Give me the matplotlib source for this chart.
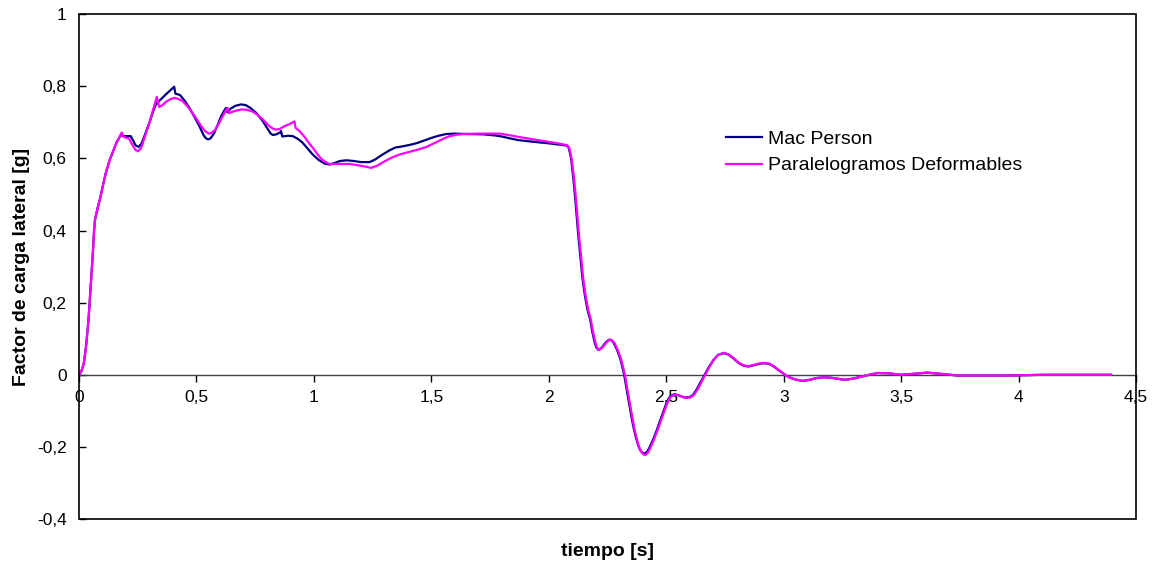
import matplotlib
matplotlib.use("Agg")
import matplotlib.pyplot as plt
from matplotlib.patches import Rectangle

plt.rcParams['font.family'] = ['Liberation Sans', 'DejaVu Sans']

# ---- data ----
t_mac = [0.0, 0.01, 0.02, 0.03, 0.04, 0.05, 0.058, 0.064, 0.068, 0.08, 0.09, 0.10,
         0.114, 0.13, 0.145, 0.16, 0.178, 0.19, 0.22, 0.23, 0.24, 0.253, 0.265, 0.28,
         0.30, 0.315, 0.327, 0.345, 0.37, 0.39, 0.405, 0.41, 0.43, 0.45, 0.47, 0.49,
         0.512, 0.53, 0.54, 0.55, 0.56, 0.575, 0.59, 0.605, 0.62, 0.626, 0.632, 0.645,
         0.665, 0.69, 0.71, 0.73, 0.755, 0.782, 0.80, 0.815, 0.825, 0.84, 0.855, 0.86,
         0.865, 0.89, 0.91, 0.93, 0.95, 0.97, 0.995, 1.02, 1.045, 1.067, 1.09, 1.11,
         1.138, 1.17, 1.20, 1.237, 1.26, 1.29, 1.32, 1.345, 1.38, 1.41, 1.44, 1.47,
         1.50, 1.53, 1.564, 1.60, 1.64, 1.72, 1.77, 1.80, 1.84, 1.87, 1.91, 1.94,
         2.00, 2.04, 2.076, 2.085, 2.095, 2.105, 2.115, 2.125, 2.133, 2.143, 2.154, 2.165,
         2.176, 2.185, 2.195, 2.203, 2.211, 2.225, 2.24, 2.255, 2.264, 2.275, 2.29, 2.304,
         2.313, 2.321, 2.33, 2.34, 2.35, 2.36, 2.37, 2.38, 2.39, 2.40, 2.41, 2.42,
         2.43, 2.445, 2.46, 2.475, 2.49, 2.50, 2.51, 2.52, 2.535, 2.55, 2.565, 2.58,
         2.60, 2.615, 2.63, 2.645, 2.66, 2.68, 2.70, 2.72, 2.745, 2.765, 2.785, 2.81,
         2.83, 2.85, 2.87, 2.90, 2.92, 2.94, 2.96, 2.98, 3.00, 3.02, 3.05, 3.08,
         3.11, 3.14, 3.17, 3.20, 3.23, 3.26, 3.30, 3.35, 3.40, 3.45, 3.50, 3.56,
         3.61, 3.68, 3.74, 3.85, 3.96, 4.10, 4.25, 4.394]
g_mac = [0.0, 0.01, 0.03, 0.08, 0.15, 0.25, 0.33, 0.40, 0.43, 0.465, 0.49, 0.52,
         0.56, 0.595, 0.62, 0.645, 0.665, 0.662, 0.662, 0.65, 0.637, 0.632, 0.64, 0.665,
         0.70, 0.73, 0.75, 0.762, 0.778, 0.79, 0.799, 0.78, 0.776, 0.76, 0.74, 0.717,
         0.69, 0.665, 0.656, 0.653, 0.656, 0.67, 0.693, 0.717, 0.735, 0.74, 0.728, 0.738,
         0.746, 0.75, 0.748, 0.74, 0.726, 0.704, 0.685, 0.67, 0.665, 0.667, 0.672, 0.676,
         0.661, 0.663, 0.662, 0.655, 0.645, 0.63, 0.611, 0.596, 0.586, 0.583, 0.588, 0.593,
         0.595, 0.593, 0.59, 0.59, 0.597, 0.61, 0.622, 0.63, 0.634, 0.638, 0.643, 0.65,
         0.657, 0.663, 0.668, 0.669, 0.668, 0.667, 0.664, 0.661, 0.655, 0.651, 0.648, 0.646,
         0.642, 0.639, 0.636, 0.63, 0.60, 0.542, 0.47, 0.39, 0.338, 0.27, 0.218, 0.18,
         0.153, 0.12, 0.09, 0.075, 0.069, 0.075, 0.088, 0.097, 0.097, 0.09, 0.07, 0.045,
         0.022, 0.0, -0.035, -0.072, -0.11, -0.144, -0.172, -0.195, -0.21, -0.217, -0.218, -0.212,
         -0.20, -0.178, -0.153, -0.125, -0.098, -0.08, -0.066, -0.058, -0.054, -0.056, -0.06, -0.063,
         -0.062, -0.055, -0.04, -0.022, -0.004, 0.02, 0.04, 0.055, 0.06, 0.056, 0.046, 0.032,
         0.025, 0.023, 0.026, 0.031, 0.032, 0.03, 0.022, 0.012, 0.003, -0.006, -0.013, -0.017,
         -0.014, -0.009, -0.007, -0.008, -0.011, -0.014, -0.01, -0.002, 0.005, 0.004, 0.0, 0.003,
         0.006, 0.002, -0.002, -0.002, -0.002, 0.0, 0.0, 0.0]

t_par = [0.0, 0.01, 0.02, 0.03, 0.04, 0.05, 0.058, 0.064, 0.068, 0.08, 0.09, 0.10,
         0.114, 0.13, 0.145, 0.16, 0.182, 0.19, 0.213, 0.225, 0.24, 0.252, 0.265, 0.28,
         0.30, 0.312, 0.322, 0.331, 0.341, 0.355, 0.37, 0.39, 0.405, 0.42, 0.44, 0.465,
         0.49, 0.52, 0.535, 0.552, 0.565, 0.58, 0.595, 0.61, 0.625, 0.633, 0.638, 0.66,
         0.69, 0.715, 0.74, 0.76, 0.782, 0.81, 0.825, 0.839, 0.855, 0.87, 0.895, 0.917,
         0.922, 0.939, 0.96, 0.98, 0.995, 1.015, 1.03, 1.05, 1.066, 1.10, 1.15, 1.20,
         1.244, 1.27, 1.29, 1.315, 1.34, 1.365, 1.393, 1.44, 1.479, 1.505, 1.53, 1.555,
         1.578, 1.61, 1.64, 1.70, 1.79, 1.83, 1.87, 1.934, 2.00, 2.04, 2.078, 2.087,
         2.097, 2.108, 2.118, 2.128, 2.136, 2.146, 2.157, 2.168, 2.179, 2.188, 2.198, 2.206,
         2.214, 2.228, 2.243, 2.258, 2.267, 2.278, 2.293, 2.307, 2.316, 2.324, 2.333, 2.343,
         2.353, 2.363, 2.373, 2.383, 2.393, 2.403, 2.413, 2.423, 2.433, 2.448, 2.463, 2.478,
         2.493, 2.503, 2.513, 2.523, 2.538, 2.553, 2.568, 2.583, 2.603, 2.618, 2.633, 2.648,
         2.662, 2.682, 2.70, 2.72, 2.745, 2.765, 2.785, 2.81, 2.83, 2.85, 2.87, 2.90,
         2.92, 2.94, 2.96, 2.98, 3.00, 3.02, 3.05, 3.08, 3.11, 3.14, 3.17, 3.20,
         3.23, 3.26, 3.30, 3.35, 3.40, 3.45, 3.50, 3.56, 3.61, 3.68, 3.74, 3.85,
         3.96, 4.10, 4.25, 4.394]
g_par = [0.0, 0.01, 0.03, 0.08, 0.15, 0.25, 0.33, 0.40, 0.43, 0.465, 0.49, 0.52,
         0.56, 0.595, 0.62, 0.645, 0.672, 0.66, 0.655, 0.64, 0.624, 0.62, 0.63, 0.66,
         0.70, 0.728, 0.75, 0.771, 0.743, 0.748, 0.757, 0.765, 0.768, 0.766, 0.76, 0.742,
         0.72, 0.69, 0.677, 0.669, 0.671, 0.68, 0.697, 0.715, 0.733, 0.74, 0.726, 0.731,
         0.736, 0.735, 0.73, 0.721, 0.709, 0.69, 0.683, 0.68, 0.682, 0.688, 0.695, 0.703,
         0.685, 0.676, 0.66, 0.642, 0.63, 0.612, 0.60, 0.59, 0.585, 0.585, 0.585, 0.58,
         0.574, 0.58, 0.588, 0.597, 0.605, 0.611, 0.616, 0.624, 0.632, 0.64, 0.648, 0.656,
         0.662, 0.666, 0.668, 0.669, 0.669, 0.665, 0.66, 0.653, 0.646, 0.642, 0.637, 0.63,
         0.60, 0.542, 0.47, 0.39, 0.338, 0.27, 0.218, 0.18, 0.153, 0.12, 0.09, 0.075,
         0.069, 0.075, 0.088, 0.097, 0.097, 0.09, 0.07, 0.045, 0.022, 0.0, -0.035, -0.072,
         -0.11, -0.145, -0.174, -0.198, -0.213, -0.221, -0.222, -0.215, -0.202, -0.179, -0.154, -0.126,
         -0.099, -0.081, -0.067, -0.059, -0.055, -0.057, -0.061, -0.064, -0.063, -0.056, -0.041, -0.023,
         -0.005, 0.02, 0.04, 0.055, 0.061, 0.057, 0.047, 0.033, 0.026, 0.024, 0.027, 0.032,
         0.033, 0.031, 0.023, 0.013, 0.003, -0.006, -0.013, -0.017, -0.014, -0.009, -0.007, -0.008,
         -0.011, -0.014, -0.01, -0.002, 0.005, 0.004, 0.0, 0.003, 0.006, 0.002, -0.002, -0.002,
         -0.002, 0.0, 0.0, 0.0]

series_names = ["Mac Person", "Paralelogramos Deformables"]
x_ticks = [0, 0.5, 1, 1.5, 2, 2.5, 3, 3.5, 4, 4.5]
x_ticklabels = ["0", "0,5", "1", "1,5", "2", "2,5", "3", "3,5", "4", "4,5"]
y_ticks = [-0.4, -0.2, 0, 0.2, 0.4, 0.6, 0.8, 1]
y_ticklabels = ["-0,4", "-0,2", "0", "0,2", "0,4", "0,6", "0,8", "1"]

# ---- figure ----
fig = plt.figure(figsize=(11.54, 5.62), dpi=100)
ax = fig.add_axes([0.0685, 0.0765, 0.9159, 0.8981])

ax.plot(t_mac, g_mac, color='#000080', lw=1.6, label=series_names[0], zorder=3)
ax.plot(t_par, g_par, color='#FF00FF', lw=1.6, label=series_names[1], zorder=4)

ax.set_xlim(0, 4.5)
ax.set_ylim(-0.4, 1)
ax.set_xticks(x_ticks)
ax.set_xticklabels(x_ticklabels)
ax.set_yticks(y_ticks)
ax.set_yticklabels(y_ticklabels)

for s in ['top', 'right', 'left']:
    ax.spines[s].set_visible(False)
ax.spines['bottom'].set_position(('data', 0))
ax.spines['bottom'].set_color('#404040')
ax.spines['bottom'].set_linewidth(1)
ax.add_patch(Rectangle((0, 0), 1, 1, transform=ax.transAxes, fill=False,
                       ec='black', lw=1.2, clip_on=False, zorder=5))

ax.tick_params(axis='y', direction='in', length=5, width=1, pad=9, labelsize=12.5)
ax.tick_params(axis='x', direction='out', length=5, width=1, pad=6, labelsize=12.5)

ax.set_xlabel("tiempo [s]", fontsize=14, fontweight='bold')
ax.xaxis.set_label_coords(0.5, -0.047)
ax.set_ylabel("Factor de carga lateral [g]", fontsize=14, fontweight='bold')
ax.yaxis.set_label_coords(-0.046, 0.5)

ax.legend(loc='upper left', bbox_to_anchor=(0.612, 0.77), frameon=False,
          fontsize=14, handlelength=1.85, handletextpad=0.3, borderpad=0,
          borderaxespad=0, labelspacing=0.45)

fig.savefig("out.png", dpi=100)
